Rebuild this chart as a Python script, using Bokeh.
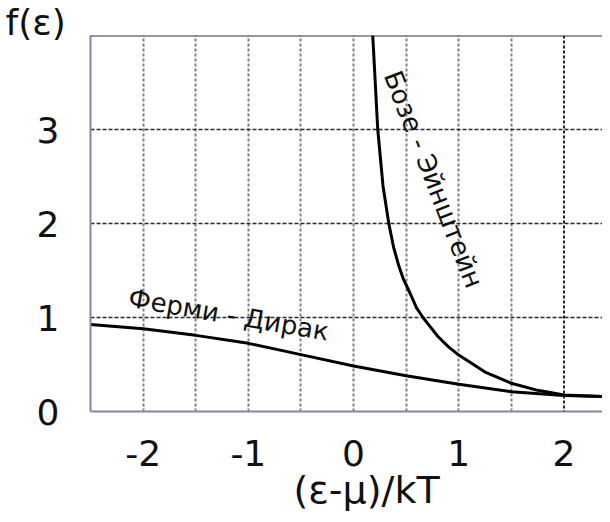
from bokeh.plotting import figure
from bokeh.models import FixedTicker, Span, Title, Range1d
from bokeh.core.properties import value
from bokeh.embed import file_html
from bokeh.resources import INLINE

# Data
fermi_x = [-2.5, -2.0, -1.5, -1.0, -0.5, 0.0, 0.5, 1.0, 1.5, 2.0, 2.5]
fermi_y = [0.925, 0.88, 0.81, 0.725, 0.605, 0.485, 0.38, 0.29, 0.21, 0.17, 0.155]

bose_x = [0.18, 0.23, 0.28, 0.335, 0.38, 0.43, 0.47, 0.54, 0.6, 0.66, 0.73, 0.8,
          0.9, 1.0, 1.25, 1.5, 1.75, 2.0, 2.5]
bose_y = [4.05, 3.0, 2.4, 2.0, 1.75, 1.55, 1.42, 1.25, 1.1, 1.0, 0.9, 0.8,
          0.69, 0.6, 0.42, 0.3, 0.225, 0.175, 0.155]

x_ticks = [-2, -1, 0, 1, 2]
x_tick_labels = {-2: "-2", -1: "-1", 0: "0", 1: "1", 2: "2"}
x_grid = [-2, -1.5, -1, -0.5, 0, 0.5, 1, 1.5]
y_ticks = [0, 1, 2, 3]
y_grid = [1, 2, 3]

FONT = "DejaVu Sans"

p = figure(width=602, height=514, output_backend="svg", toolbar_location=None,
           x_range=Range1d(-2.5, 2.366), y_range=Range1d(0, 4),
           min_border_left=90, min_border_top=35, min_border_right=0,
           min_border_bottom=103)
p.outline_line_color = None
p.background_fill_color = "white"
p.border_fill_color = "white"

# titles (y label at top-left, x label below)
try:
    top_title = Title(text="f(ε)", align="left", offset=-85, standoff=-14)
except Exception:
    top_title = Title(text="f(ε)", align="left", offset=-85, standoff=0)
top_title.text_font = FONT
top_title.text_font_size = "36px"
top_title.text_font_style = "normal"
top_title.text_color = "#111111"
p.add_layout(top_title, "above")

try:
    bottom_title = Title(text="(ε-μ)/kT", align="left", offset=203, standoff=-6)
except Exception:
    bottom_title = Title(text="(ε-μ)/kT", align="left", offset=203, standoff=0)
bottom_title.text_font = FONT
bottom_title.text_font_size = "38px"
bottom_title.text_font_style = "normal"
bottom_title.text_color = "#111111"
p.add_layout(bottom_title, "below")

# axes
for ax in (p.xaxis[0], p.yaxis[0]):
    ax.axis_line_color = "#8585a8"
    ax.axis_line_width = 2
    ax.major_tick_line_color = None
    ax.minor_tick_line_color = None
    ax.major_label_text_font = FONT
    ax.major_label_text_font_size = "36px"
    ax.major_label_text_color = "#111111"
p.xaxis.ticker = FixedTicker(ticks=x_ticks)
p.xaxis.major_label_overrides = x_tick_labels
p.yaxis.ticker = FixedTicker(ticks=y_ticks)
p.xaxis.major_label_standoff = 22
p.yaxis.major_label_standoff = 25

# grids
p.xgrid.ticker = FixedTicker(ticks=x_grid)
p.xgrid.grid_line_color = "#808080"
p.xgrid.grid_line_width = 2
p.xgrid.grid_line_dash = "3 2"
p.ygrid.ticker = FixedTicker(ticks=y_grid)
p.ygrid.grid_line_color = "#2a2a2a"
p.ygrid.grid_line_width = 1.5
p.ygrid.grid_line_dash = "4 2"

p.add_layout(Span(location=2, dimension="height", line_color="#222222",
                  line_width=2, line_dash="3 2"))
p.add_layout(Span(location=4, dimension="width", line_color="#30305a",
                  line_width=2))

# curves
p.line(fermi_x, fermi_y, line_color="black", line_width=3)
p.line(bose_x, bose_y, line_color="black", line_width=3)

# curve labels
p.text(x=[-1.186], y=[1.03], text=["Ферми - Дирак"], angle=-0.17,
       text_font=value(FONT), text_font_size="26px", text_color="#111111",
       text_align="center", text_baseline="middle")
p.text(x=[0.76], y=[2.47], text=["Бозе - Эйнштейн"], angle=-1.2,
       text_font=value(FONT), text_font_size="26px", text_color="#111111",
       text_align="center", text_baseline="middle")

open("out.html", "w").write(file_html(p, INLINE))
